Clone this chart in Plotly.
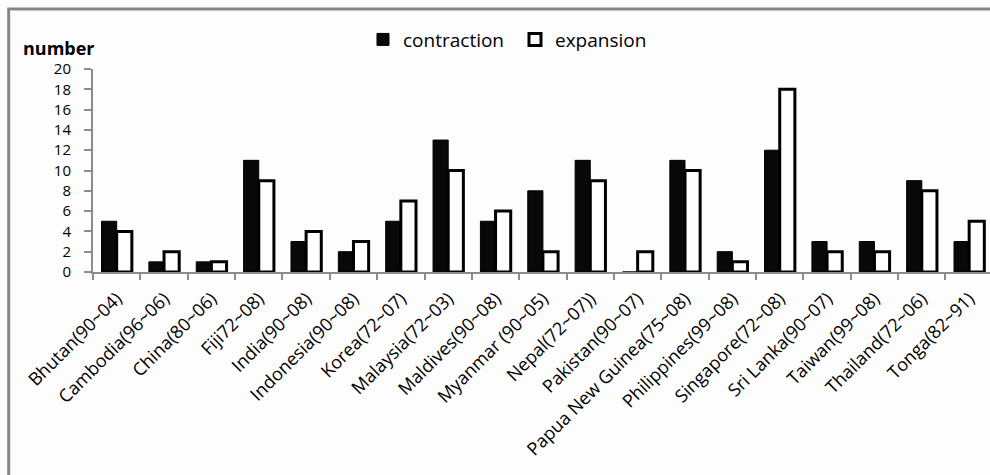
import plotly.graph_objects as go

# Episodes by country (sample period in brackets)
countries = [
    "Bhutan(90~04)", "Cambodia(96~06)", "China(80~06)", "Fiji72~08)",
    "India(90~08)", "Indonesia(90~08)", "Korea(72~07)", "Malaysia(72~03)",
    "Maldives(90~08)", "Myanmar (90~05)", "Nepal(72~07))", "Pakistan(90~07)",
    "Papua New Guinea(75~08)", "Philippines(99~08)", "Singapore(72~08)",
    "Sri Lanka(90~07)", "Taiwan(99~08)", "Thailand(72~06)", "Tonga(82~91)",
]
contraction = [5, 1, 1, 11, 3, 2, 5, 13, 5, 8, 11, 0, 11, 2, 12, 3, 3, 9, 3]
expansion = [4, 2, 1, 9, 4, 3, 7, 10, 6, 2, 9, 2, 10, 1, 18, 2, 2, 8, 5]
y_ticks = list(range(0, 21, 2))

FONT = "Open Sans"
AXIS_GREY = "#8c8c8c"

fig = go.Figure()
fig.add_trace(go.Bar(
    x=countries, y=contraction, name="contraction",
    marker=dict(color="#080808", line=dict(color="#000000", width=1)),
))
fig.add_trace(go.Bar(
    x=countries, y=expansion, name="expansion",
    marker=dict(color="#ffffff", line=dict(color="#000000", width=3)),
))

fig.update_layout(
    width=990, height=475,
    margin=dict(l=93, r=0, t=69, b=203),
    paper_bgcolor="#fdfdfd", plot_bgcolor="#fdfdfd",
    barmode="group", bargap=0.36, bargroupgap=0.0,
    font=dict(family=FONT, color="#000000"),
    showlegend=True,
    legend=dict(
        orientation="h", x=0.301, y=1.145, xanchor="left", yanchor="middle",
        font=dict(size=19, family=FONT),
        itemwidth=30, entrywidth=107, entrywidthmode="pixels",
        bgcolor="rgba(0,0,0,0)",
    ),
    xaxis=dict(
        type="category", range=[-0.5, 18.44],
        showline=True, linecolor=AXIS_GREY, linewidth=2,
        ticks="outside", tickson="boundaries", ticklen=6, tickcolor=AXIS_GREY, tickwidth=2,
        tickangle=-45, tickfont=dict(size=18, family=FONT), ticklabelstandoff=7,
        showgrid=False, zeroline=False,
    ),
    yaxis=dict(
        range=[0, 20], tickvals=y_ticks,
        showline=True, linecolor=AXIS_GREY, linewidth=2,
        ticks="outside", ticklen=7, tickcolor=AXIS_GREY, tickwidth=2,
        tickfont=dict(size=15, family=FONT), ticklabelstandoff=10,
        showgrid=False, zeroline=False,
    ),
    annotations=[dict(
        text="<b>number</b>", xref="paper", yref="paper",
        x=-0.080, y=1.105, xanchor="left", yanchor="middle",
        showarrow=False, font=dict(size=18, family=FONT),
    )],
)

# chart frame
fig.add_shape(
    type="rect", xref="paper", yref="paper",
    x0=-0.094, x1=1.05, y0=-1.1, y1=1.295,
    line=dict(color="#8a8585", width=3), fillcolor="rgba(0,0,0,0)", layer="below",
)

fig.write_html("out.html")
